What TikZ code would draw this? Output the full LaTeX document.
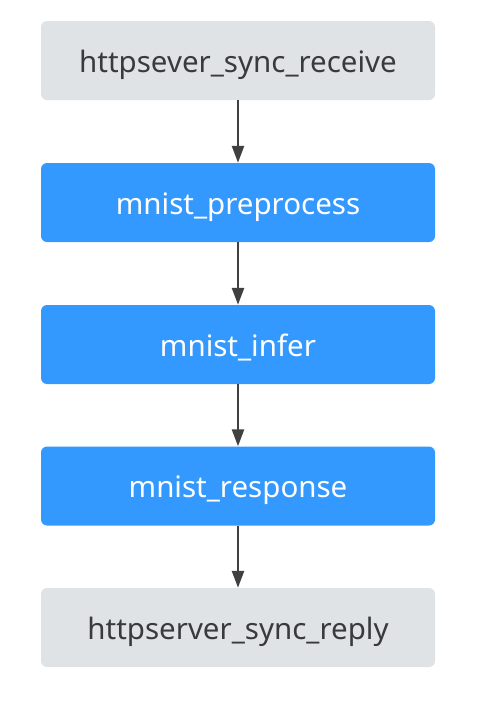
\documentclass[tikz,border=0pt]{standalone}
\usepackage{fontspec}
\setmainfont{Noto Sans}
\usetikzlibrary{arrows.meta}
\definecolor{boxgrey}{HTML}{E0E3E6}
\definecolor{boxblue}{HTML}{3399FF}
\definecolor{darkline}{HTML}{404040}
\definecolor{darktext}{HTML}{3A3A3A}
\begin{document}
\begin{tikzpicture}[x=1pt,y=-1pt,
  base/.style={rectangle, rounded corners=6pt, minimum width=394pt, minimum height=79pt, inner sep=0pt, text height=23pt, text depth=0pt, font=\fontsize{29.5}{34}\selectfont},
  greybox/.style={base, fill=boxgrey, text=darktext},
  bluebox/.style={base, fill=boxblue, text=white},
  conn/.style={draw=darkline, line width=2.6pt, -{Triangle[length=17pt,width=12pt]}}]
\useasboundingbox (0,0) rectangle (483,713);
\node[greybox] (a) at (238,60.5) {httpsever\_sync\_receive};
\node[bluebox] (b) at (238,202.5) {mnist\_preprocess};
\node[bluebox] (c) at (238,344.5) {mnist\_infer};
\node[bluebox] (d) at (238,486) {mnist\_response};
\node[greybox] (e) at (238,627.5) {httpserver\_sync\_reply};
\draw[conn] (a) -- (b);
\draw[conn] (b) -- (c);
\draw[conn] (c) -- (d);
\draw[conn] (d) -- (e);
\end{tikzpicture}
\end{document}
